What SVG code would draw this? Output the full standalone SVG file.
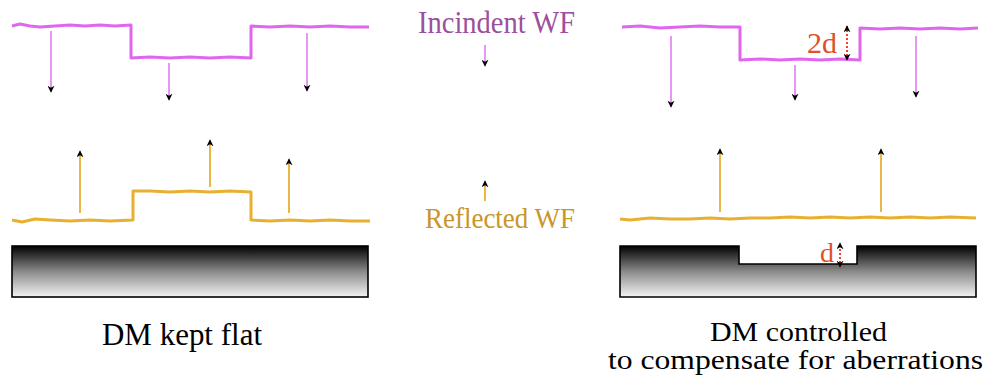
<svg xmlns="http://www.w3.org/2000/svg" width="987" height="381" viewBox="0 0 987 381">
  <style>
    .wf-in { fill: none; stroke: #e066f0; stroke-width: 3; stroke-linejoin: round; }
    .wf-out { fill: none; stroke: #e8b030; stroke-width: 3; stroke-linejoin: round; }
    .ray-in { stroke: #e07cf0; stroke-width: 1.6; marker-end: url(#head); }
    .ray-out { stroke: #e8b030; stroke-width: 1.8; marker-end: url(#head); }
    .dim { stroke: #f04030; stroke-width: 2; stroke-dasharray: 2 2; marker-start: url(#head); marker-end: url(#head); }
    .mirror { fill: url(#dmShade); stroke: #000; stroke-width: 1.6; }
    text { font-family: 'Liberation Serif', 'DejaVu Serif', 'Times New Roman', serif; }
    .lbl-in { fill: #9b4f9e; }
    .lbl-out { fill: #c9962a; }
    .lbl-dim { fill: #e0502a; }
    .caption { fill: #000; }
  </style>
  <defs>
    <marker id="head" viewBox="0 0 10 10" refX="9" refY="5" markerWidth="7" markerHeight="7" markerUnits="userSpaceOnUse" orient="auto-start-reverse">
      <path d="M0,0 L10,5 L0,10 L3,5 Z" fill="#000"/>
    </marker>
    <linearGradient id="dmShade" x1="0" y1="0" x2="0" y2="1">
      <stop offset="0" stop-color="#000"/>
      <stop offset="0.5" stop-color="#8a8a8a"/>
      <stop offset="1" stop-color="#f4f4f4"/>
    </linearGradient>
  </defs>

  <!-- labels in the middle column -->
  <g id="label-incident">
    <text class="lbl-in" x="418" y="33" font-size="31" textLength="157" lengthAdjust="spacingAndGlyphs">Incindent WF</text>
  </g>
  <g id="label-reflected">
    <text class="lbl-out" x="425" y="228" font-size="30" textLength="150" lengthAdjust="spacingAndGlyphs">Reflected WF</text>
  </g>

  <!-- left panel: flat mirror -->
  <g id="left-incident-wf">
    <path class="wf-in" d="M12,26 L20,24 L30,26 L40,27 L55,26 L70,25 L85,26 L100,25 L115,26 L131,25 L131,58 L150,57 L170,58 L190,57 L210,58 L230,57 L251,58 L251,26 L270,27 L290,26 L310,27 L330,26 L350,27 L369,27"/>
  </g>
  <g id="left-reflected-wf">
    <path class="wf-out" d="M12,220 L22,222 L35,219 L50,220 L70,221 L90,220 L110,221 L133,220 L133,191 L150,191 L170,192 L190,191 L210,192 L230,191 L251,192 L251,220 L270,221 L290,220 L310,221 L330,220 L350,221 L370,221"/>
  </g>
  <g id="left-mirror">
    <rect class="mirror" x="12" y="246" width="356" height="51"/>
  </g>
  <g id="left-caption">
    <text class="caption" x="102" y="345" font-size="31" textLength="160" lengthAdjust="spacingAndGlyphs">DM kept flat</text>
  </g>

  <!-- right panel: shaped mirror -->
  <g id="right-incident-wf">
    <path class="wf-in" d="M622,27 L640,26 L660,28 L680,27 L700,26 L720,27 L740,27 L740,60 L760,59 L780,60 L800,59 L820,60 L840,59 L860,60 L860,28 L880,29 L900,28 L920,29 L940,28 L960,29 L978,28"/>
  </g>
  <g id="right-reflected-wf">
    <path class="wf-out" d="M620,219 L630,220 L650,218 L670,219 L690,219 L710,218 L730,219 L750,218 L770,218 L790,217 L810,218 L830,217 L850,218 L870,217 L890,218 L910,217 L930,218 L950,217 L976,218"/>
  </g>
  <g id="right-mirror">
    <path class="mirror" d="M620,246 L739,246 L739,264 L857,264 L857,246 L976,246 L976,297 L620,297 Z"/>
  </g>
  <g id="label-2d">
    <text class="lbl-dim" x="807" y="53" font-size="29" textLength="30" lengthAdjust="spacingAndGlyphs">2d</text>
  </g>
  <g id="label-d">
    <text class="lbl-dim" x="820" y="262" font-size="27" textLength="14" lengthAdjust="spacingAndGlyphs">d</text>
  </g>
  <g id="right-caption">
    <text class="caption" x="710" y="341" font-size="27" textLength="177" lengthAdjust="spacingAndGlyphs">DM controlled</text>
    <text class="caption" x="608" y="369" font-size="27" textLength="375" lengthAdjust="spacingAndGlyphs">to compensate for aberrations</text>
  </g>

  <!-- rays and dimension marks -->
  <g id="connectors">
    <line class="ray-in" x1="51" y1="31" x2="51" y2="92"/>
    <line class="ray-in" x1="169" y1="63" x2="169" y2="100"/>
    <line class="ray-in" x1="307" y1="33" x2="307" y2="91"/>
    <line class="ray-in" x1="485" y1="45" x2="485" y2="66"/>
    <line class="ray-in" x1="671" y1="36" x2="671" y2="107"/>
    <line class="ray-in" x1="795" y1="65" x2="795" y2="100"/>
    <line class="ray-in" x1="916" y1="36" x2="916" y2="97"/>

    <line class="ray-out" x1="80" y1="213" x2="80" y2="151"/>
    <line class="ray-out" x1="210" y1="187" x2="210" y2="140"/>
    <line class="ray-out" x1="289" y1="213" x2="289" y2="159"/>
    <line class="ray-out" x1="485" y1="201" x2="485" y2="181"/>
    <line class="ray-out" x1="720" y1="212" x2="720" y2="149"/>
    <line class="ray-out" x1="881" y1="212" x2="881" y2="149"/>

    <line class="dim" x1="847" y1="60" x2="847" y2="26"/>
    <line class="dim" x1="840" y1="267" x2="840" y2="243"/>
  </g>
</svg>
